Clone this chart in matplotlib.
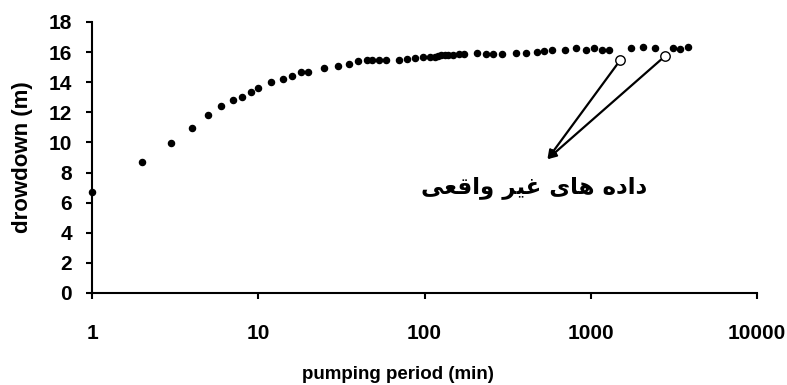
import matplotlib
matplotlib.use("Agg")
import matplotlib.pyplot as plt

# pumping period (min) and drowdown (m)
time_min = [1, 2, 3, 4, 5, 6, 7, 8, 9, 10, 12, 14, 16, 18, 20, 25, 30, 35, 40, 45, 48, 53, 59,
            70, 78.5, 88, 98, 108, 116, 121, 126, 132, 139, 149, 162, 173, 208, 234, 259, 293,
            355, 408, 473, 526, 586, 697, 813, 933, 1050, 1170, 1290, 1740, 2070, 2430, 3100,
            3440, 3860]
drawdown_m = [6.7, 8.72, 9.98, 10.93, 11.8, 12.44, 12.8, 13.0, 13.33, 13.6, 14.03, 14.19, 14.43,
              14.7, 14.68, 14.92, 15.05, 15.23, 15.38, 15.47, 15.47, 15.47, 15.47, 15.45, 15.54,
              15.6, 15.65, 15.65, 15.69, 15.76, 15.78, 15.8, 15.8, 15.82, 15.85, 15.85, 15.92,
              15.87, 15.85, 15.87, 15.94, 15.92, 16.0, 16.05, 16.16, 16.14, 16.27, 16.16, 16.25,
              16.14, 16.12, 16.25, 16.33, 16.25, 16.29, 16.18, 16.35]

# suspect (unreal) data points
bad_time_min = [1500, 2800]
bad_drawdown_m = [15.45, 15.74]

x_ticks = [1, 10, 100, 1000, 10000]
x_tick_labels = ["1", "10", "100", "1000", "10000"]
y_ticks = [0, 2, 4, 6, 8, 10, 12, 14, 16, 18]

note_text = "ﯽﻌﻗﺍﻭ ﺮﯿﻏ ﯼﺎﻫ ﻩﺩﺍﺩ"  # "داده های غیر واقعی" shaped for display
arrow_tip = (548, 8.88)
note_pos = (456, 7.0)

plt.rcParams['font.family'] = ['Liberation Sans', 'DejaVu Sans']

fig = plt.figure(figsize=(7.87, 3.85), dpi=100)
ax = fig.add_axes([0.1169, 0.239, 0.962 - 0.1169, 0.943 - 0.239])

ax.set_xscale('log')
ax.set_xlim(1, 10000)
ax.set_ylim(0, 18)

ax.plot(time_min, drawdown_m, linestyle='none', marker='o', markersize=4.4,
        color='black', clip_on=False, zorder=3)
ax.plot(bad_time_min, bad_drawdown_m, linestyle='none', marker='o', markersize=6.8,
        markerfacecolor='white', markeredgecolor='black', markeredgewidth=1.0, zorder=4)

for bx, by in zip(bad_time_min, bad_drawdown_m):
    ax.annotate('', xy=arrow_tip, xytext=(bx, by),
                arrowprops=dict(arrowstyle='-|>', color='black', lw=1.6,
                                mutation_scale=13, shrinkA=4, shrinkB=0), zorder=2)

ax.text(note_pos[0], note_pos[1], note_text, ha='center', va='center',
        fontsize=16.5, fontweight='bold', family=['DejaVu Sans'])

ax.set_xticks(x_ticks)
ax.set_xticklabels(x_tick_labels)
ax.xaxis.set_minor_locator(matplotlib.ticker.NullLocator())
ax.set_yticks(y_ticks)

for s in ['top', 'right']:
    ax.spines[s].set_visible(False)
for s in ['left', 'bottom']:
    ax.spines[s].set_linewidth(1.5)

ax.tick_params(axis='x', direction='out', length=4.5, width=1.5, pad=18, labelsize=15)
ax.tick_params(axis='y', direction='out', length=4.5, width=1.5, pad=10, labelsize=15)
for lab in ax.get_xticklabels() + ax.get_yticklabels():
    lab.set_fontweight('bold')

ax.set_xlabel('pumping period (min)', fontsize=13.5, fontweight='bold', va='center')
ax.xaxis.set_label_coords(0.46, -0.299)
ax.set_ylabel('drowdown (m)', fontsize=16, fontweight='bold', va='center')
ax.yaxis.set_label_coords(-0.104, 0.5)

fig.savefig('out.png', dpi=100)
